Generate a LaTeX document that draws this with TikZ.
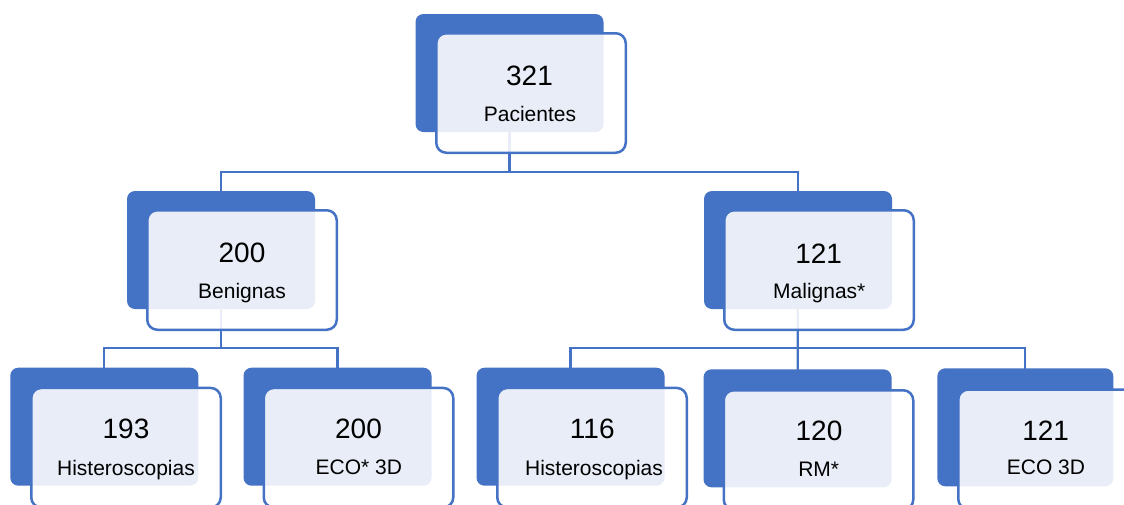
\documentclass[tikz,border=0pt]{standalone}
\usepackage{fontspec}
\setmainfont{Liberation Sans}
\usetikzlibrary{backgrounds}
\definecolor{sblue}{HTML}{4472C4}
\begin{document}
\begin{tikzpicture}[x=1pt,y=-1pt,
  back/.style={fill=sblue, draw=none, rounded corners=8pt, minimum width=188pt, minimum height=118pt, inner sep=0pt},
  front/.style={fill=white, fill opacity=0.88, draw=sblue, draw opacity=1, line width=2.5pt, rounded corners=10pt, minimum width=189.5pt, minimum height=119.5pt, inner sep=0pt},
  num/.style={anchor=base, font=\fontsize{28}{32}\selectfont, inner sep=0pt},
  lab/.style={anchor=base, font=\fontsize{21}{25}\selectfont, inner sep=0pt},
  conn/.style={draw=sblue, line width=2.3pt}]
\useasboundingbox (0,0) rectangle (1124,504);
% back shapes
\node[back] (top-b) at (509.5,73) {};
\node[back] (ben-b) at (221,250) {};
\node[back] (mal-b) at (798,250) {};
\node[back] (h1-b) at (104.3,426.7) {};
\node[back] (e1-b) at (337.5,426.7) {};
\node[back] (h2-b) at (570.5,426.7) {};
\node[back] (rm-b) at (797.5,428.3) {};
\node[back, minimum width=176pt] (e2-b) at (1025.3,427.3) {};
% junctions
\coordinate (j1) at (509.5,172);
\coordinate (j2) at (221,348);
\coordinate (j3) at (798,348);
% connectors behind everything
\begin{scope}[on background layer]
\draw[conn] (top-b.center) -- (j1);
\draw[conn] (ben-b.center) |- (j1) -| (mal-b.center);
\draw[conn] (ben-b.center) -- (j2);
\draw[conn] (h1-b.center) |- (j2) -| (e1-b.center);
\draw[conn] (mal-b.center) -- (rm-b.center);
\draw[conn] (h2-b.center) |- (j3) -| (e2-b.center);
\end{scope}
% front boxes
\node[front] (top) at (531,93) {};
\node[front] (ben) at (242,270) {};
\node[front] (mal) at (819,270) {};
\node[front] (h1) at (126,447.7) {};
\node[front] (e1) at (358.5,447.7) {};
\node[front] (h2) at (592,447.7) {};
\node[front] (rm) at (818.5,450) {};
\node[front, minimum width=177.5pt] (e2) at (1047,449.3) {};
% texts
\node[num] (top-n) at (529.5,85.5) {321};
\node[lab] (top-l) at (530,121.5) {Pacientes};
\node[num] (ben-n) at (242,262.5) {200};
\node[lab] (ben-l) at (242,298) {Benignas};
\node[num] (mal-n) at (818.7,263) {121};
\node[lab] (mal-l) at (819.3,298.3) {Malignas*};
\node[num] (h1-n) at (126,438) {193};
\node[lab] (h1-l) at (126,475.5) {Histeroscopias};
\node[num] (e1-n) at (358.5,438.2) {200};
\node[lab] (e1-l) at (358.8,474.3) {ECO* 3D};
\node[num] (h2-n) at (592.3,438.3) {116};
\node[lab] (h2-l) at (594,475.8) {Histeroscopias};
\node[num] (rm-n) at (819,440.8) {120};
\node[lab] (rm-l) at (818.7,476.3) {RM*};
\node[num] (e2-n) at (1045.7,440.2) {121};
\node[lab] (e2-l) at (1046,474.2) {ECO 3D};
\end{tikzpicture}
\end{document}
